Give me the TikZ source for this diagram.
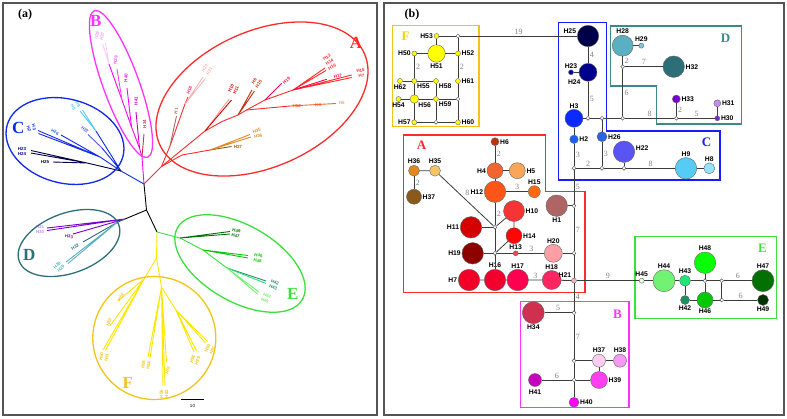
\documentclass[tikz,border=0pt]{standalone}
\usepackage{fontspec}
\setmainfont{Liberation Serif}
\setsansfont{Liberation Sans}
\usetikzlibrary{positioning}

\newcommand{\hc}[2]{\definecolor{#1}{HTML}{#2}}
\hc{frm}{555555}\hc{edg}{3C3C3C}
\hc{grA}{FF2A2A}\hc{grB}{FF33FF}\hc{grC}{1A1AFF}\hc{grD}{3A8A8C}\hc{grE}{3CE03C}\hc{grF}{F2C318}
\hc{txF}{F5D200}\hc{elC}{1028E8}\hc{elD}{2E6E78}\hc{lnF}{FFE600}
\hc{yel}{FFFF00}
\hc{c25}{00004A}\hc{c24}{00008C}\hc{c23}{0000B0}\hc{c3}{0A2AFF}\hc{c2}{1560FF}\hc{c26}{2A62E8}
\hc{c22}{5A55F2}\hc{c9}{55CCF5}\hc{c8}{95E2FA}
\hc{c28}{5BAFC2}\hc{c29}{7CCBDA}\hc{c32}{2D6E78}\hc{c33}{7A00D0}\hc{c30}{7E22D6}\hc{c31}{C68CF0}
\hc{c6}{C0300A}\hc{c4}{F26530}\hc{c5}{F9A55A}\hc{c12}{FF5518}\hc{c15}{FF6A10}\hc{c10}{F53535}
\hc{c11}{D50000}\hc{c14}{FF0505}\hc{c19}{8E0000}\hc{c13}{F04848}\hc{c20}{FF9EA5}\hc{c1}{B06565}
\hc{c36}{E3861C}\hc{c35}{F7C368}\hc{c37}{8A5A1C}\hc{c7}{F20025}\hc{c16}{F2002E}\hc{c17}{FF0050}
\hc{c18}{FF2560}\hc{c21}{F8B4B4}
\hc{c34}{D0304F}\hc{c37b}{FFCCF2}\hc{c38}{F49AF2}\hc{c39}{FF40F2}\hc{c41}{C800C0}\hc{c40}{FF00FF}
\hc{c45}{E2FFE2}\hc{c44}{72F272}\hc{c43}{22E57A}\hc{c42}{1F8F62}\hc{c46}{05C805}\hc{c48}{08FF08}
\hc{c47}{037003}\hc{c49}{013201}

\tikzstyle{panel}=[draw=frm, line width=1.6pt]
\tikzstyle{hap}=[circle, draw=black!60, line width=0.4pt, inner sep=0pt]
\tikzstyle{mv}=[circle, draw=black!70, fill=white, line width=0.45pt, inner sep=0pt, minimum size=3.8pt]
\tikzstyle{lab}=[font=\sffamily\bfseries\fontsize{6.8}{6.8}\selectfont, inner sep=0.8pt]
\tikzstyle{num}=[font=\fontsize{8}{8}\selectfont, text=black!50, inner sep=1.5pt]
\tikzstyle{link}=[draw=edg, line width=0.8pt]
\tikzstyle{grp}=[line width=1.2pt]
\tikzstyle{clu}=[font=\bfseries\fontsize{13}{13}\selectfont, inner sep=0pt]
\tikzstyle{big}=[font=\bfseries\fontsize{17}{17}\selectfont, inner sep=0pt]
\tikzstyle{tl}=[font=\sffamily\bfseries\fontsize{4.4}{5.4}\selectfont, inner sep=0pt, align=center]
\tikzstyle{br}=[line width=0.9pt]
\tikzstyle{oval}=[line width=1.3pt]

\begin{document}
\begin{tikzpicture}[x=1pt, y=-1pt, every label/.style=lab]
\useasboundingbox (0,0) rectangle (787,418);
\draw[panel] (3,3) rectangle (377,415);
\draw[panel] (384,3) rectangle (784,415);
\node[font=\bfseries\fontsize{12}{12}\selectfont] (pa) at (25,15) {(a)};
\node[font=\bfseries\fontsize{12}{12}\selectfont] (pb) at (412,15) {(b)};

% ---------- (a) tree ----------
\coordinate (r0) at (144,184);
\coordinate (r1) at (146.5,210);
\coordinate (rD) at (125,219);
\coordinate (rEF) at (157,232);
\draw[br, black] (r0) -- (r1) -- (rD) (r1) -- (rEF);

% B
\coordinate (b0) at (142,157);
\coordinate (b1) at (139.5,148);
\coordinate (b2) at (131.5,127);
\coordinate (b3) at (122,100);
\coordinate (b4) at (109,64);
\draw[br, c40] (r0) -- (b0) -- (b1) -- (b2) -- (b3) -- (b4);
\draw[br, c37b] (b4) -- (102.5,44) (b4) -- (105.5,43);
\draw[br, c34] (b0) -- (144,134);
\draw[br, c41] (b1) -- (136,112);
\draw[br, c40] (b2) -- (127,88);
\draw[br, c39] (b3) -- (117,69);
\node[tl, text=c34, rotate=90] (tB34) at (144.5,124) {H34};
\node[tl, text=c41, rotate=90] (tB41) at (136,101) {H41};
\node[tl, text=c40, rotate=85] (tB40) at (126,78) {H40};
\node[tl, text=c39, rotate=80] (tB39) at (115.5,60) {H39};
\node[tl, text=c38, rotate=75] (tB38) at (99.5,36) {H38\\H37};

% C
\coordinate (c0) at (121,171);
\coordinate (c1) at (100,157);
\coordinate (c2) at (96,131);
\coordinate (c3) at (102,148);
\coordinate (c4) at (87,163);
\draw[br, elC] (r0) -- (c0) -- (c1) -- (38,130.5) (c1) -- (38.5,133.5) (c1) -- (61,135);
\draw[br, elC] (c0) -- (c2) (c0) -- (c3);
\draw[br, c9] (c2) -- (80,111) (c2) -- (82.5,110);
\draw[br, c22] (c3) -- (88,134.5);
\draw[br, c25] (c0) -- (c4) -- (31,150.5) (c4) -- (31,153) (c4) -- (53,162);
\node[tl, text=c3, rotate=-75] (tC3) at (31.5,128) {H3\\H2};
\node[tl, text=c26, rotate=-30] (tC26) at (55,132) {H26};
\node[tl, text=c9, rotate=-60] (tC9) at (75.5,106) {H9\\H8};
\node[tl, text=c22, rotate=-40] (tC22) at (85,129.5) {H22};
\node[tl, text=c24] (tC23) at (22,151.5) {H23\\H24};
\node[tl, text=c25] (tC25) at (45,162) {H25};

% D
\coordinate (d1) at (117,222.5);
\draw[br, c33] (rD) -- (47,228) (rD) -- (47,230.5) (rD) -- (73,234);
\draw[br, elD] (rD) -- (d1) -- (83,242);
\draw[br, c28] (d1) -- (66,262) (d1) -- (68,263.5);
\node[tl, text=c31] (tD31) at (40,229.5) {H31\\H30};
\node[tl, text=c33, rotate=-10] (tD33) at (69,236.5) {H33};
\node[tl, text=c32, rotate=30] (tD32) at (75,247) {H32};
\node[tl, text=c28, rotate=45] (tD28) at (59,267) {H28\\H29};

% E
\coordinate (e0) at (180,238);
\coordinate (e1) at (203,250);
\coordinate (e2) at (227,268);
\draw[br, grE] (rEF) -- (e0) -- (e1) -- (e2);
\draw[br, c47] (e0) -- (230,231.5) (e0) -- (230,234);
\draw[br, c46] (e1) -- (248,255.5) (e1) -- (248,258);
\draw[br, c42] (e2) -- (266,281);
\draw[br, c43] (e2) -- (266,283.5);
\draw[br, c44] (e2) -- (259,292) (e2) -- (257.5,294);
\node[tl, text=c47, rotate=-10] (tE49) at (236,233.5) {H49\\H47};
\node[tl, text=c46, rotate=-10] (tE46) at (258,258) {H46\\H48};
\node[tl, text=c42, rotate=-20] (tE42) at (274,285) {H42\\H43};
\node[tl, text=c44, rotate=-25] (tE44) at (266,298) {H44\\H45};

% F
\coordinate (f0) at (156.5,258);
\coordinate (f1) at (144,279);
\coordinate (f2) at (161.5,287);
\coordinate (f3) at (176,310);
\draw[br, lnF] (rEF) -- (f0) -- (f1) -- (118,301) (f1) -- (110,326) (f1) -- (103,350) (f1) -- (105.5,350.5);
\draw[br, lnF] (f0) -- (f2) -- (148,357) (f2) -- (150,358) (f2) -- (166.5,362) (f2) -- (163,386) (f2) -- (165,386);
\draw[br, lnF] (f2) -- (f3) -- (194,352) (f3) -- (196.5,351) (f3) -- (205.5,343) (f3) -- (207.5,341.5);
\node[tl, text=grF, rotate=55] (tF52) at (121,297) {H52};
\node[tl, text=grF, rotate=70] (tF53) at (109,322) {H53};
\node[tl, text=grF, rotate=80] (tF50) at (104,357) {H50\\H51};
\node[tl, text=grF, rotate=80] (tF54) at (146,365) {H55\\H54};
\node[tl, text=grF, rotate=70] (tF57) at (168,370) {H57};
\node[tl, text=grF, rotate=90] (tF56) at (164,394) {H56\\H62};
\node[tl, text=grF, rotate=70] (tF58) at (195,360) {H58\\H59};
\node[tl, text=grF, rotate=65] (tF60) at (210,349) {H60\\H61};

% A
\coordinate (a0) at (161.5,166.5);
\coordinate (a1) at (170,146);
\coordinate (a10) at (185,104);
\coordinate (a2) at (182,155);
\coordinate (a11) at (210,150);
\coordinate (a3) at (205,131);
\coordinate (a4) at (222,121.5);
\coordinate (a5) at (238,115);
\coordinate (a6) at (246.5,110);
\coordinate (a7) at (265,100);
\coordinate (a8) at (293,90);
\coordinate (a9) at (290,106);
\draw[br, grA] (r0) -- (a0) -- (a3) -- (a4) -- (a5) -- (a6) -- (a7) -- (a8);
\draw[br, grA] (a0) -- (a1) -- (a10) -- (188,97);
\draw[br, c1] (a1) -- (176.5,116);
\draw[br, c21] (a10) -- (203,77) (a10) -- (205.5,78.5);
\draw[br, grA] (a0) -- (a2) -- (a11);
\draw[br, c37] (a11) -- (231.5,146.5);
\draw[br, c36] (a11) -- (250,134.5) (a11) -- (251,137);
\draw[br, c20] (a3) -- (229,99);
\draw[br, c11] (a3) -- (231.5,100);
\draw[br, c6] (a5) -- (252,90) (a5) -- (254.5,91);
\draw[br, grA] (a6) -- (a9);
\draw[br, c4] (a9) -- (336,103.5);
\draw[br, c17] (a7) -- (281.7,83.3);
\draw[br, grA] (a8) -- (325,68) (a8) -- (326,70.5) (a8) -- (351.7,75) (a8) -- (351.7,77.5);
\draw[br, c17] (a8) -- (326.7,79.3);
\node[tl, text=c1, rotate=80] (tA1) at (176,111) {H1};
\node[tl, text=c18, rotate=70] (tA18) at (189.3,90) {H18};
\node[tl, text=c21, rotate=60] (tA20) at (207,69.5) {H20\\H21};
\node[tl, text=c37, rotate=5] (tA27) at (238,147) {H27};
\node[tl, text=c36, rotate=15] (tA35) at (257.5,133.5) {H35\\H36};
\node[tl, text=c11, rotate=65] (tA10) at (233.5,89.5) {H10\\H11};
\node[tl, text=c6, rotate=55] (tA6) at (256.5,82.5) {H6\\H15};
\node[tl, text=c17, rotate=40] (tA19) at (286.5,80.5) {H19};
\node[tl, text=grA, rotate=30] (tA13) at (329.5,62) {H13\\H14\\H16};
\node[tl, text=c17, rotate=15] (tA17) at (338,76) {H17};
\node[tl, text=grA, rotate=10] (tA7) at (361,73) {H16\\H7};
\node[tl, text=c12] (tA12) at (296.7,105.5) {H12};
\node[tl, text=c4] (tA4) at (318.3,104.5) {H4};
\node[tl, text=c5] (tA5) at (341.7,103.5) {H5};

% clade outlines
\draw[oval, grA, rotate around={24:(262,99)}] (262,99) ellipse [x radius=112, y radius=68];
\draw[oval, grB, rotate around={-70:(121,84)}] (121,84) ellipse [x radius=78, y radius=18];
\draw[oval, elC, rotate around={-15:(65,141)}] (65,141) ellipse [x radius=60, y radius=42];
\draw[oval, elD, rotate around={20:(69,243)}] (69,243) ellipse [x radius=53, y radius=30];
\draw[oval, grE, rotate around={-30:(240,263.5)}] (240,263.5) ellipse [x radius=72, y radius=38];
\draw[oval, grF] (154.3,338) circle [radius=61.5];
\node[big, text=grA] (eA) at (356,42.5) {A};
\node[big, text=grB] (eB) at (95.7,20.7) {B};
\node[big, text=elC] (eC) at (18.3,127.7) {C};
\node[big, text=elD] (eD) at (29.3,255) {D};
\node[big, text=grE] (eE) at (292.7,294) {E};
\node[big, text=grF] (eF) at (127.7,382.7) {F};
\coordinate (sb1) at (181,399);
\coordinate (sb2) at (204,399);
\draw[line width=1pt] (sb1) -- (sb2);
\node[tl, font=\sffamily\fontsize{4.5}{4.5}\selectfont] (sb) at (192.5,405.5) {10};

% ---------- (b) network ----------
\draw[grp, grF] (392.3,25.7) rectangle (479,126.7);
\draw[grp, grC] (558.3,22.7) -- (606.7,22.7) -- (606.7,131) -- (720,131) -- (720,180) -- (558.3,180) -- cycle;
\draw[grp, grD] (610.7,26) -- (741.3,26) -- (741.3,124) -- (656.7,124) -- (656.7,86) -- (610.7,86) -- cycle;
\draw[grp, grA] (403.3,135) -- (545.7,135) -- (545.7,191.7) -- (585,191.7) -- (585,292.3) -- (403.3,292.3) -- cycle;
\draw[grp, grB] (520.7,301.7) rectangle (629,407.3);
\draw[grp, grE] (635,236.7) rectangle (776.7,318.3);
\node[clu, text=txF] (lF) at (405.5,36) {F};
\node[clu, text=grC] (lC) at (706.5,142.5) {C};
\node[clu, text=grD] (lD) at (725.5,38.5) {D};
\node[clu, text=grA] (lA) at (421.5,145) {A};
\node[clu, text=grB] (lB) at (617.5,314) {B};
\node[clu, text=grE] (lE) at (762.5,248.5) {E};

% F
\node[hap, fill=yel, minimum size=5pt, label=left:H53] (H53) at (436.5,36) {};
\node[hap, fill=yel, minimum size=17.5pt, label=below:H51] (H51) at (436.5,53.5) {};
\node[hap, fill=yel, minimum size=5pt, label=left:H50] (H50) at (414.3,53.5) {};
\node[hap, fill=yel, minimum size=5pt, label=right:H52] (H52) at (458,53.5) {};
\node[hap, fill=yel, minimum size=5pt, label=below:H62] (H62) at (400,81) {};
\node[hap, fill=yel, minimum size=5pt, label=below right:H55] (H55) at (414.3,81) {};
\node[hap, fill=yel, minimum size=5pt, label=below right:H58] (H58) at (436,81) {};
\node[hap, fill=yel, minimum size=5pt, label=right:H61] (H61) at (458,81) {};
\node[hap, fill=yel, minimum size=5pt, label=below:H54] (H54) at (398.5,99) {};
\node[hap, fill=yel, minimum size=8.5pt, label=below right:H56] (H56) at (414.3,99) {};
\node[hap, fill=yel, minimum size=5pt, label=below right:H59] (H59) at (436,99) {};
\node[hap, fill=yel, minimum size=5pt, label=left:H57] (H57) at (414.3,122.3) {};
\node[hap, fill=yel, minimum size=5pt, label=right:H60] (H60) at (458,122.3) {};
\node[mv] (fF1) at (458,36) {};
\node[mv] (fF2) at (458,99) {};
\node[mv] (fF3) at (436,122.3) {};

% C and D
\node[hap, fill=c25, minimum size=21.5pt, label={[yshift=5pt]left:H25}] (H25) at (588,36) {};
\node[hap, fill=c24, minimum size=18pt, label=below left:H24] (H24) at (588,72.3) {};
\node[hap, fill=c23, minimum size=5pt, label=above:H23] (H23) at (571,72.3) {};
\node[hap, fill=c3, minimum size=18pt, label=above:H3] (H3) at (574,118.3) {};
\node[hap, fill=c2, minimum size=8.5pt, label=right:H2] (H2) at (574,139.3) {};
\node[hap, fill=c26, minimum size=10pt, label=right:H26] (H26) at (602,136.7) {};
\node[hap, fill=c22, minimum size=21.5pt, label={[yshift=4pt]right:H22}] (H22) at (624,151.7) {};
\node[hap, fill=c9, minimum size=21.5pt, label=above:H9] (H9) at (686,168.3) {};
\node[hap, fill=c8, minimum size=11pt, label=above:H8] (H8) at (709.3,168.3) {};
\node[hap, fill=c28, minimum size=21pt, label=above:H28] (H28) at (622.7,45.7) {};
\node[hap, fill=c29, minimum size=5pt, label=above:H29] (H29) at (641.3,45.7) {};
\node[hap, fill=c32, minimum size=21.5pt, label=right:H32] (H32) at (673.7,66.7) {};
\node[hap, fill=c33, minimum size=8pt, label=right:H33] (H33) at (676.3,99) {};
\node[hap, fill=c30, minimum size=5pt, label=right:H30] (H30) at (717.3,118.3) {};
\node[hap, fill=c31, minimum size=7pt, label=right:H31] (H31) at (717.3,103.3) {};
\node[mv] (mC1) at (588,118.3) {};
\node[mv] (mC2) at (602,118.3) {};
\node[mv] (mD1) at (622.7,118.3) {};
\node[mv] (mD2) at (676.3,118.3) {};
\node[mv] (mD3) at (622.7,66.7) {};
\node[mv] (mC3) at (574,168.3) {};
\node[mv] (mC4) at (602,168.3) {};
\node[mv] (mC5) at (624,168.3) {};

% A
\node[hap, fill=c6, minimum size=8pt, label=right:H6] (H6) at (495,141.7) {};
\node[hap, fill=c4, minimum size=16pt, label=left:H4] (H4) at (495,170.7) {};
\node[hap, fill=c5, minimum size=16pt, label=right:H5] (H5) at (517.3,170.7) {};
\node[hap, fill=c12, minimum size=21.5pt, label=left:H12] (H12) at (495,191.7) {};
\node[hap, fill=c15, minimum size=12pt, label=above:H15] (H15) at (534.3,191.7) {};
\node[hap, fill=c10, minimum size=21pt, label=right:H10] (H10) at (514,211) {};
\node[hap, fill=c11, minimum size=21.5pt, label=left:H11] (H11) at (471,227.3) {};
\node[hap, fill=c14, minimum size=16pt, label=right:H14] (H14) at (514,235.7) {};
\node[hap, fill=c19, minimum size=21.5pt, label=left:H19] (H19) at (472.7,253.3) {};
\node[hap, fill=c13, minimum size=5pt, label=above:H13] (H13) at (515.7,253.3) {};
\node[hap, fill=c20, minimum size=18pt, label=above:H20] (H20) at (553.3,253.3) {};
\node[hap, fill=c1, minimum size=21.5pt, label=below:H1] (H1) at (556.7,205.7) {};
\node[hap, fill=c36, minimum size=11pt, label=above:H36] (H36) at (414,170.7) {};
\node[hap, fill=c35, minimum size=11pt, label=above:H35] (H35) at (435,170.7) {};
\node[hap, fill=c37, minimum size=15pt, label=right:H37] (hA37) at (414,196.7) {};
\node[hap, fill=c7, minimum size=21.5pt, label=left:H7] (H7) at (469,280) {};
\node[hap, fill=c16, minimum size=21.5pt, label=above:H16] (H16) at (495,280) {};
\node[hap, fill=c17, minimum size=21.5pt, label=above:H17] (H17) at (517.7,280) {};
\node[hap, fill=c18, minimum size=19pt, label=above:H18] (H18) at (551.7,280) {};
\node[hap, fill=c21, minimum size=5pt, label=above left:H21] (H21) at (574,280.7) {};
\node[mv] (mA1) at (574,205.7) {};
\node[mv] (mA2) at (574,253.3) {};
\node[mv] (mA3) at (495,227.3) {};
\node[mv] (mA4) at (495,253.3) {};

% B
\node[hap, fill=c34, minimum size=22pt, label=below:H34] (H34) at (533.3,312.7) {};
\node[hap, fill=c37b, minimum size=13pt, label=above:H37] (hB37) at (599,360.7) {};
\node[hap, fill=c38, minimum size=13pt, label=above:H38] (H38) at (620,360.7) {};
\node[hap, fill=c39, minimum size=17pt, label=right:H39] (H39) at (599,380) {};
\node[hap, fill=c41, minimum size=13pt, label={[label distance=2pt]below:H41}] (H41) at (535,380) {};
\node[hap, fill=c40, minimum size=10pt, label=right:H40] (H40) at (574,402.3) {};
\node[mv] (mB1) at (574,312.7) {};
\node[mv] (mB2) at (574,360.7) {};
\node[mv] (mB3) at (574,380) {};

% E
\node[hap, fill=c45, minimum size=5pt, label=above:H45] (H45) at (641.7,280.7) {};
\node[hap, fill=c44, minimum size=22pt, label=above:H44] (H44) at (664,280.7) {};
\node[hap, fill=c43, minimum size=11pt, label=above:H43] (H43) at (685,280.7) {};
\node[hap, fill=c42, minimum size=9pt, label=below:H42] (H42) at (685,300) {};
\node[hap, fill=c46, minimum size=16pt, label=below:H46] (H46) at (705,300) {};
\node[hap, fill=c48, minimum size=21.5pt, label=above:H48] (H48) at (705,262.7) {};
\node[hap, fill=c47, minimum size=22pt, label=above:H47] (H47) at (763,280.7) {};
\node[hap, fill=c49, minimum size=11pt, label=below:H49] (H49) at (763,300) {};
\node[mv] (mE1) at (705,280.7) {};
\node[mv] (mE2) at (721.7,280.7) {};
\node[mv] (mE3) at (721.7,300) {};

% links
\draw[link] (H53) -- (fF1) -- node[num, above]{19} (H25);
\draw[link] (H53) -- (H51);
\draw[link] (H50) -- (H51) -- (H52);
\draw[link] (fF1) -- (H52) -- node[num, right]{2} (H61) -- (fF2) -- (H60);
\draw[link] (H50) -- node[num, right]{2} (H55) -- (H56) -- (H57);
\draw[link] (H62) -- (H55) -- (H58) -- (H59) -- (fF3);
\draw[link] (H54) -- (H56) -- (H59) -- (fF2);
\draw[link] (H57) -- (fF3) -- (H60);

\draw[link] (H25) -- node[num, right]{4} (H24) -- node[num, right]{5} (mC1);
\draw[link] (H23) -- (H24);
\draw[link] (H3) -- (mC1) -- (mC2) -- (mD1) -- node[num, above]{8} (mD2) -- node[num, above]{5} (H30) -- (H31);
\draw[link] (mD2) -- node[num, right]{2} (H33);
\draw[link] (mD1) -- node[num, right]{6} (mD3) -- node[num, right]{2} (H28) -- (H29);
\draw[link] (mD3) -- node[num, above]{7} (H32);
\draw[link] (H3) -- (H2) -- node[num, right]{3} (mC3) -- node[num, above]{2} (mC4) -- (mC5) -- node[num, above]{8} (H9) -- (H8);
\draw[link] (mC2) -- (H26) -- node[num, right]{3} (mC4);
\draw[link] (mC5) -- (H22);

\draw[link] (mC3) -- node[num, right]{5} (mA1) -- node[num, right]{7} (mA2) -- (H21) -- node[num, right]{4} (mB1) -- node[num, right]{7} (mB2) -- (mB3) -- (H40);
\draw[link] (H1) -- (mA1);
\draw[link] (H20) -- (mA2);
\draw[link] (H6) -- node[num, right]{2} (H4) -- (H12) -- node[num, right]{2} (mA3) -- (mA4) -- (H16);
\draw[link] (H4) -- (H5);
\draw[link] (H12) -- node[num, above]{3} (H15);
\draw[link] (mA3) -- (H10) -- (H14) -- (mA4);
\draw[link] (mA3) -- (H11);
\draw[link] (H19) -- (mA4) -- (H13) -- node[num, above]{3} (H20);
\draw[link] (H7) -- (H16) -- (H17) -- node[num, above]{3} (H18) -- (H21);
\draw[link] (H36) -- (H35) -- node[num, above right, pos=0.45]{8} (mA3);
\draw[link] (H36) -- node[num, right]{2} (hA37);

\draw[link] (mB1) -- node[num, above]{5} (H34);
\draw[link] (mB2) -- (hB37) -- (H38);
\draw[link] (hB37) -- (H39) -- (mB3) -- node[num, above]{6} (H41);

\draw[link] (H21) -- node[num, above]{9} (H45) -- (H44) -- (H43) -- (mE1) -- (mE2) -- node[num, above]{6} (H47);
\draw[link] (H43) -- (H42) -- (H46) -- (mE3) -- node[num, above]{6} (H49);
\draw[link] (H48) -- (mE1) -- (H46);
\draw[link] (mE2) -- (mE3);
\end{tikzpicture}
\end{document}
